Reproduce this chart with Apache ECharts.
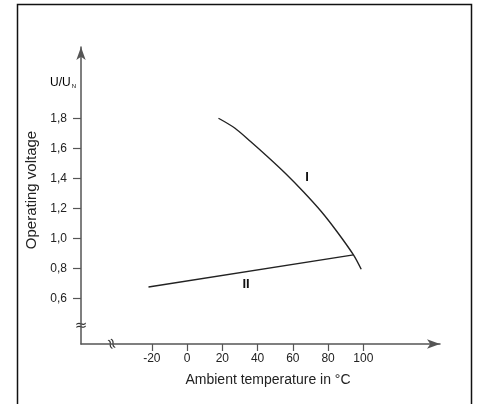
<!DOCTYPE html>
<html>
<head>
<meta charset="utf-8">
<script src="https://cdn.jsdelivr.net/npm/echarts@6/dist/echarts.min.js"></script>
<style>
  html, body { margin: 0; padding: 0; background: #fff; }
  #chart { width: 478px; height: 404px; }
</style>
</head>
<body>
<div id="chart"></div>
<script>
// curve I (temperature, U/UN)
const curveI = [
  [17.8, 1.80], [27, 1.735], [36, 1.645], [46, 1.54], [56, 1.43],
  [66, 1.31], [76, 1.18], [85, 1.045], [94.4, 0.889], [98.8, 0.793]
];
// curve II
const curveII = [[-21.9, 0.675], [94.4, 0.889]];
const xTicks = [-20, 0, 20, 40, 60, 80, 100];
const yTicks = [0.6, 0.8, 1.0, 1.2, 1.4, 1.6, 1.8];

const font = 'Liberation Sans';
const axisColor = '#555';
const inkColor = '#222';

const myChart = echarts.init(document.getElementById('chart'));
myChart.setOption({
  animation: false,
  backgroundColor: '#fff',
  grid: { left: 81, top: 47, width: 359, height: 297 },
  xAxis: {
    type: 'value',
    min: -60.2,
    max: 143.5,
    splitLine: { show: false },
    axisLine: {
      onZero: false,
      symbol: ['none', 'arrow'],
      symbolSize: [7, 13],
      lineStyle: { color: axisColor, width: 1.5 }
    },
    axisTick: {
      customValues: xTicks,
      length: 7,
      lineStyle: { color: axisColor, width: 1.2 }
    },
    axisLabel: {
      customValues: xTicks,
      margin: 9,
      color: inkColor,
      fontFamily: font,
      fontSize: 12
    }
  },
  yAxis: {
    type: 'value',
    min: 0.295,
    max: 2.275,
    splitLine: { show: false },
    axisLine: {
      onZero: false,
      symbol: ['none', 'arrow'],
      symbolSize: [7, 13],
      lineStyle: { color: axisColor, width: 1.5 }
    },
    axisTick: {
      customValues: yTicks,
      length: 8,
      lineStyle: { color: axisColor, width: 1.2 }
    },
    axisLabel: {
      customValues: yTicks,
      margin: 14,
      color: inkColor,
      fontFamily: font,
      fontSize: 12,
      formatter: (v) => v.toFixed(1).replace('.', ',')
    }
  },
  series: [
    {
      name: 'I',
      type: 'line',
      data: curveI,
      smooth: 0.3,
      showSymbol: false,
      lineStyle: { color: inkColor, width: 1.4 }
    },
    {
      name: 'II',
      type: 'line',
      data: curveII,
      showSymbol: false,
      lineStyle: { color: inkColor, width: 1.4 }
    }
  ],
  graphic: [
    // outer frame
    {
      type: 'rect',
      shape: { x: 17.5, y: 4.5, width: 454, height: 430 },
      style: { fill: 'none', stroke: '#111', lineWidth: 1.5 }
    },
    // axis titles
    {
      type: 'text',
      x: 268, y: 380,
      style: {
        text: 'Ambient temperature in °C', fill: inkColor,
        font: '14px "Liberation Sans"', align: 'center', verticalAlign: 'middle'
      }
    },
    {
      type: 'text',
      x: 32, y: 190,
      rotation: Math.PI / 2,
      style: {
        text: 'Operating voltage', fill: inkColor,
        font: '15px "Liberation Sans"', align: 'center', verticalAlign: 'middle'
      }
    },
    {
      type: 'text',
      x: 50, y: 83,
      style: {
        text: '{a|U/U}{b|N}',
        verticalAlign: 'middle',
        rich: {
          a: { fontFamily: font, fontSize: 12, color: inkColor },
          b: { fontFamily: font, fontSize: 6, color: inkColor, padding: [7, 0, 0, 1] }
        }
      }
    },
    // curve labels
    {
      type: 'text',
      x: 307, y: 177,
      style: {
        text: 'I', fill: '#111', font: 'bold 13px "Liberation Sans"',
        align: 'center', verticalAlign: 'middle'
      }
    },
    {
      type: 'text',
      x: 246, y: 284,
      style: {
        text: 'II', fill: '#111', font: 'bold 13px "Liberation Sans"',
        align: 'center', verticalAlign: 'middle'
      }
    },
    // axis break marks
    {
      type: 'text',
      x: 81, y: 326,
      style: {
        text: '≈', fill: '#333', font: '15px "DejaVu Sans"',
        align: 'center', verticalAlign: 'middle', backgroundColor: '#fff'
      }
    },
    {
      type: 'text',
      x: 111, y: 344,
      rotation: -Math.PI * 0.4,
      style: {
        text: '≈', fill: '#333', font: '15px "DejaVu Sans"',
        align: 'center', verticalAlign: 'middle', backgroundColor: '#fff'
      }
    }
  ]
});
</script>
</body>
</html>
